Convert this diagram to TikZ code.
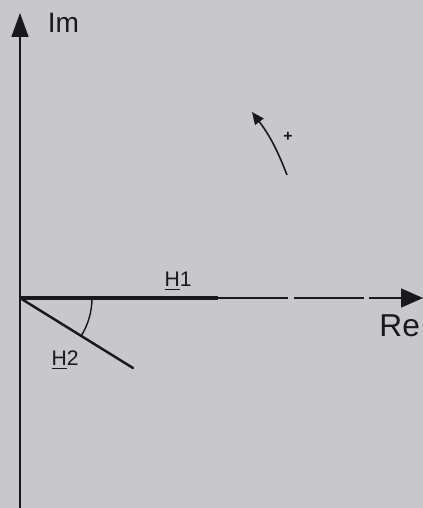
\documentclass[tikz,border=0pt]{standalone}
\usepackage{fontspec}
\setmainfont{Liberation Sans}
\usepackage{xcolor}
\definecolor{scangray}{RGB}{200,200,202}
\definecolor{inkblack}{RGB}{25,25,28}
\usetikzlibrary{arrows.meta,positioning,calc}

\begin{document}
\begin{tikzpicture}
  % Background (scanned paper)
  \fill[scangray] (-0.4,-4.2) rectangle (8.06,5.96);
  \useasboundingbox (-0.4,-4.2) rectangle (8.06,5.96);

  % Axes
  \coordinate (O) at (0,0);
  \coordinate (imtop) at (0,5.7);
  \coordinate (imbot) at (0,-4.2);
  \coordinate (retip) at (8.06,0);
  \coordinate (h1end) at (3.96,0);
  \coordinate (h2end) at (2.26,-1.4);

  \draw[inkblack,line width=0.9pt,-{Triangle[length=0.48cm,width=0.34cm]}] (imbot) -- (imtop);
  \draw[inkblack,line width=0.7pt,dash pattern=on 40pt off 3pt] (h1end) -- ($(retip)+(-0.4,0)$);
  \draw[inkblack,line width=0.9pt,-{Triangle[length=0.44cm,width=0.38cm]}] ($(retip)+(-0.5,0)$) -- (retip);

  % Phasors
  \draw[inkblack,line width=1.8pt] (O) -- (h1end);
  \draw[inkblack,line width=1.4pt,line cap=round] (O) -- (h2end);

  % Angle arc
  \draw[inkblack,line width=0.8pt] (1.44,0) arc[start angle=0,end angle=-31.8,radius=1.44];

  % Labels
  \node[inkblack,font=\fontsize{16}{18}\selectfont] (im) at (0.87,5.5) {Im};
  \node[inkblack,font=\fontsize{18}{21}\selectfont,anchor=east,inner sep=1pt] (re) at (8.04,-0.56) {Re};
  \node[inkblack,font=\fontsize{12}{14}\selectfont] (h1) at (3.16,0.33) {\underline{H}1};
  \node[inkblack,font=\fontsize{12}{14}\selectfont] (h2) at (0.9,-1.24) {\underline{H}2};

  % Sense of rotation
  \coordinate (rotstart) at (5.34,2.46);
  \coordinate (rotend) at (4.64,3.72);
  \draw[inkblack,line width=0.9pt,-{Triangle[length=7pt,width=6pt]}] (rotstart) to[bend right=8] (rotend);
  \node[inkblack,font=\fontsize{9}{10}\selectfont\bfseries] (plus) at (5.36,3.22) {+};
\end{tikzpicture}
\end{document}
